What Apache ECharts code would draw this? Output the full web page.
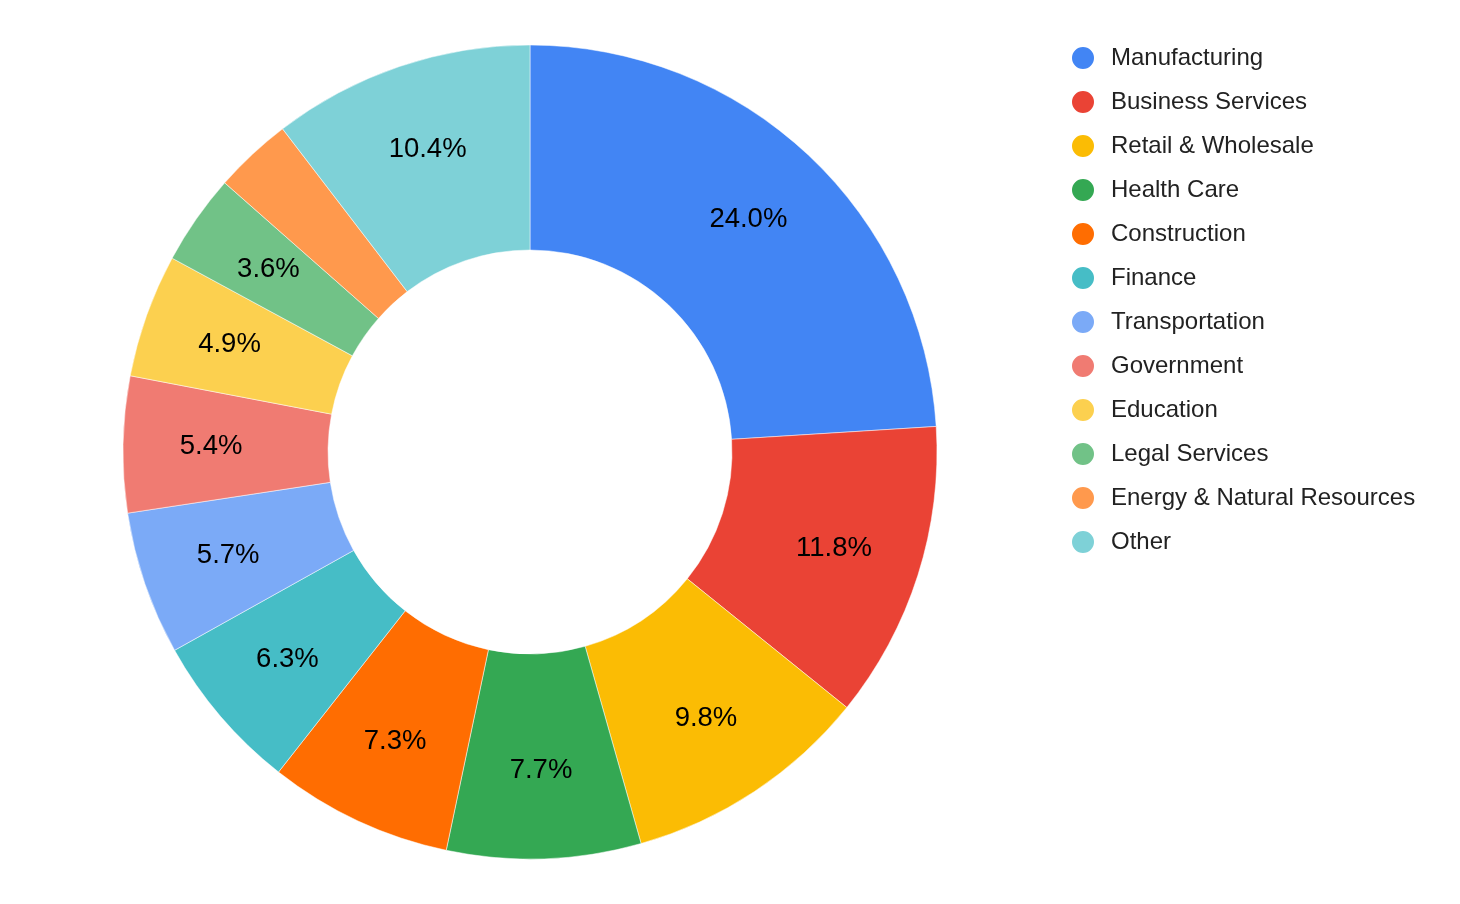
<!DOCTYPE html>
<html>
<head>
<meta charset="utf-8">
<script src="https://cdn.jsdelivr.net/npm/echarts@6/dist/echarts.min.js"></script>
<style>
  html, body { margin: 0; padding: 0; background: #fff; }
  #main { width: 1460px; height: 904px; }
</style>
</head>
<body>
<div id="main"></div>
<script>
var sectors = ['Manufacturing', 'Business Services', 'Retail & Wholesale', 'Health Care',
    'Construction', 'Finance', 'Transportation', 'Government', 'Education',
    'Legal Services', 'Energy & Natural Resources', 'Other'];
var shares = [24.0, 11.8, 9.8, 7.7, 7.3, 6.3, 5.7, 5.4, 4.9, 3.6, 3.1, 10.4];
var colors = ['#4285F4', '#EA4335', '#FBBC04', '#34A853', '#FF6D01', '#46BDC6',
    '#7BAAF7', '#F07B72', '#FCD04F', '#71C287', '#FF994D', '#7ED1D7'];
// slices too thin get no label
var hideLabel = ['Energy & Natural Resources'];

var myChart = echarts.init(document.getElementById('main'));

var ringData = [];
var labelData = [];
for (var i = 0; i < sectors.length; i++) {
    ringData.push({
        name: sectors[i],
        value: shares[i],
        itemStyle: { color: colors[i] }
    });
    labelData.push({
        name: sectors[i],
        value: shares[i],
        label: { show: hideLabel.indexOf(sectors[i]) < 0 }
    });
}

var font = 'Arial, "Liberation Sans", Helvetica, sans-serif';

var option = {
    animation: false,
    legend: {
        orient: 'vertical',
        left: 1065,
        top: 40,
        icon: 'circle',
        itemWidth: 24,
        itemHeight: 24,
        itemGap: 18,
        textStyle: {
            fontFamily: font,
            fontSize: 24,
            lineHeight: 24,
            color: '#222',
            padding: [0, 0, 0, 11]
        },
        data: sectors
    },
    series: [
        {
            type: 'pie',
            center: [530, 452],
            radius: [202, 407],
            startAngle: 90,
            clockwise: true,
            emphasis: { disabled: true },
            itemStyle: { borderColor: '#fff', borderWidth: 0.5 },
            label: { show: false },
            labelLine: { show: false },
            data: ringData
        },
        {
            // labels only, sitting a bit further out than mid-ring
            type: 'pie',
            center: [530, 452],
            radius: [225, 407],
            startAngle: 90,
            clockwise: true,
            silent: true,
            emphasis: { disabled: true },
            itemStyle: { color: 'rgba(0,0,0,0)' },
            label: {
                position: 'inside',
                color: '#000',
                fontFamily: font,
                fontSize: 27.5,
                formatter: function (p) { return p.value.toFixed(1) + '%'; }
            },
            labelLine: { show: false },
            data: labelData
        }
    ]
};

myChart.setOption(option);
</script>
</body>
</html>
